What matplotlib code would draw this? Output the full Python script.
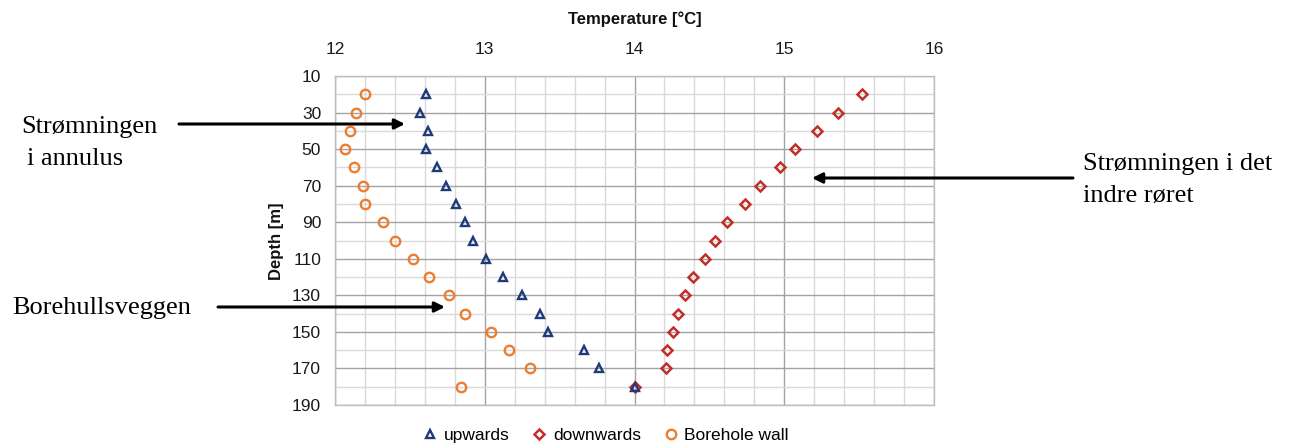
import matplotlib
matplotlib.use("Agg")
import matplotlib.pyplot as plt
from matplotlib.ticker import MultipleLocator
from matplotlib.lines import Line2D

# ---- data ----
depth = [20, 30, 40, 50, 60, 70, 80, 90, 100, 110, 120, 130, 140, 150, 160, 170, 180]
upwards = [12.61, 12.57, 12.62, 12.61, 12.68, 12.74, 12.81, 12.87, 12.92, 13.01,
           13.12, 13.25, 13.37, 13.42, 13.66, 13.76, 14.00]
downwards = [15.52, 15.36, 15.22, 15.07, 14.97, 14.84, 14.74, 14.62, 14.54, 14.47,
             14.39, 14.34, 14.29, 14.26, 14.22, 14.21, 14.00]
borehole = [12.20, 12.14, 12.10, 12.07, 12.13, 12.19, 12.20, 12.32, 12.40, 12.52,
            12.63, 12.76, 12.87, 13.04, 13.16, 13.30, 12.84]
x_ticks = [12, 13, 14, 15, 16]
y_ticks = [10, 30, 50, 70, 90, 110, 130, 150, 170, 190]
series_names = ["upwards", "downwards", "Borehole wall"]

W, H = 1291, 446
plt.rcParams['font.family'] = ['Liberation Sans', 'DejaVu Sans']

fig = plt.figure(figsize=(W / 100, H / 100), dpi=100)
L, R, T, B = 335, 934, 76, 405
ax = fig.add_axes([L / W, 1 - B / H, (R - L) / W, (B - T) / H])

c_up = '#1f3a78'
c_down = '#c0302a'
c_bh = '#ec7d31'

up_style = dict(linestyle='none', marker='^', ms=6.0, mfc='none', mec=c_up, mew=1.7)
down_style = dict(linestyle='none', marker='D', ms=5.0, mfc='none', mec=c_down, mew=1.8)
bh_style = dict(linestyle='none', marker='o', ms=6.8, mfc='none', mec=c_bh, mew=1.7)

ax.plot(downwards, depth, zorder=3, **down_style)
ax.plot(borehole, depth, zorder=3, **bh_style)
ax.plot(upwards, depth, zorder=4, **up_style)

ax.set_xlim(12, 16)
ax.set_ylim(190, 10)
ax.xaxis.tick_top()
ax.set_xticks(x_ticks)
ax.xaxis.set_minor_locator(MultipleLocator(0.2))
ax.set_yticks(y_ticks)
ax.yaxis.set_minor_locator(MultipleLocator(10))
ax.tick_params(which='both', length=0)
ax.tick_params(axis='x', which='major', pad=14, labelsize=12.5, labelcolor='#1a1a1a')
ax.tick_params(axis='y', which='major', pad=10, labelsize=12.5, labelcolor='#1a1a1a')
ax.grid(which='minor', color='#dadada', lw=1.0, zorder=0)
ax.grid(which='major', color='#a3a3a3', lw=1.0, zorder=0)
ax.set_axisbelow(True)
for s in ax.spines.values():
    s.set_color('#bdbdbd')
    s.set_linewidth(1.0)

fig.text(634.5 / W, 1 - 19 / H, 'Temperature [°C]', ha='center', va='center',
         fontsize=12, fontweight='bold', color='#111111')
fig.text(277 / W, 1 - 241 / H, 'Depth [m]', ha='center', va='center',
         rotation=90, fontsize=12, fontweight='bold', color='#111111')

handles = [Line2D([], [], **up_style), Line2D([], [], **down_style),
           Line2D([], [], **bh_style)]
fig.legend(handles, series_names, loc='center', bbox_to_anchor=(606 / W, 1 - 435 / H),
           ncol=3, frameon=False, fontsize=12.5, handlelength=0.8, handletextpad=0.4,
           columnspacing=1.3, borderpad=0)

# ---- annotations ----
serif = ['Liberation Serif', 'DejaVu Serif']
def ftext(x, y, s):
    fig.text(x / W, 1 - y / H, s, ha='left', va='baseline', fontsize=19,
             family=serif, color='black')

def farrow(x0, y0, x1, y1):
    ax.annotate('', xy=(x1 / W, 1 - y1 / H), xycoords='figure fraction',
                xytext=(x0 / W, 1 - y0 / H), textcoords='figure fraction',
                arrowprops=dict(arrowstyle='-|>', color='black', lw=2.2,
                                mutation_scale=15, shrinkA=0, shrinkB=0),
                annotation_clip=False)

ftext(21, 133, 'Strømningen')
ftext(27, 165, 'i annulus')
ftext(12, 314, 'Borehullsveggen')
ftext(1083, 170, 'Strømningen i det')
ftext(1083, 202, 'indre røret')

farrow(179, 124, 405, 124)
farrow(218, 307, 445, 307)
farrow(1073, 178, 812, 178)

fig.savefig('out.png', dpi=100)
